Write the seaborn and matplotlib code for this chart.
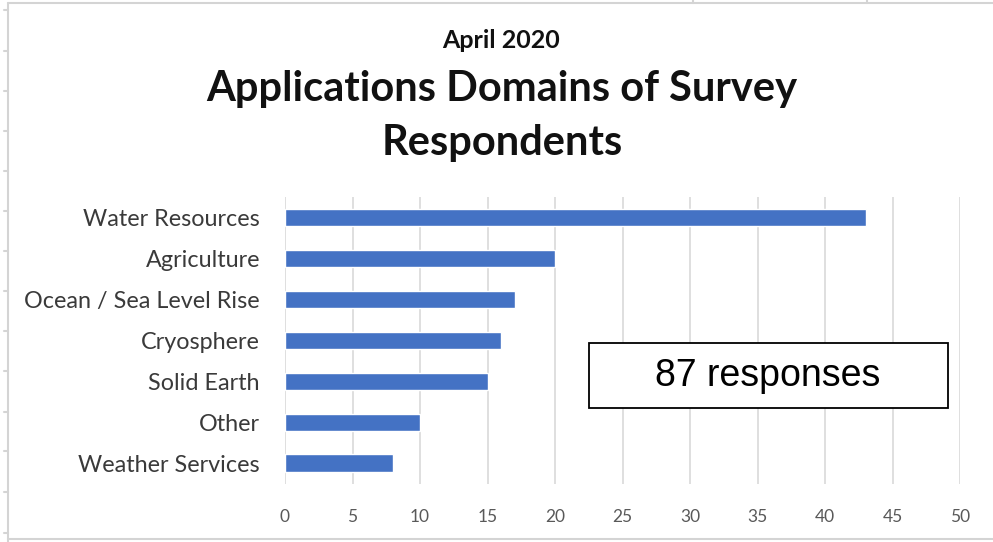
import matplotlib
matplotlib.use("Agg")
import matplotlib.pyplot as plt
import seaborn as sns
import pandas as pd
from matplotlib.lines import Line2D

# Survey data
domains = ["Water Resources", "Agriculture", "Ocean / Sea Level Rise", "Cryosphere",
           "Solid Earth", "Other", "Weather Services"]
counts = [43, 20, 17, 16, 15, 10, 8]
x_ticks = [0, 5, 10, 15, 20, 25, 30, 35, 40, 45, 50]
subtitle = "April 2020"
title = "Applications Domains of Survey\nRespondents"
note = "87 responses"

sns.set_theme(style="white")
plt.rcParams["font.family"] = ["Lato", "DejaVu Sans"]

df = pd.DataFrame({"domain": domains, "count": counts})

W, H = 993, 542
fig = plt.figure(figsize=(W / 100, H / 100), dpi=100)
ax = fig.add_axes([285 / W, 1 - 483.5 / H, (960 - 285) / W, (483.5 - 197) / H])

sns.barplot(data=df, x="count", y="domain", color="#4472C4", saturation=1,
            width=0.42, ax=ax, zorder=3)

ax.set_xlim(0, 50)
ax.set_xticks(x_ticks)
ax.set_xticklabels([str(t) for t in x_ticks], fontsize=12.5, color="#595959")
ax.tick_params(axis="x", length=0, pad=18)
ax.tick_params(axis="y", length=0, pad=18, labelsize=16.8, labelcolor="#3A3A3A")
ax.set_xlabel("")
ax.set_ylabel("")
ax.xaxis.grid(True, color="#D9D9D9", linewidth=1.2, zorder=0)
ax.yaxis.grid(False)
for s in ax.spines.values():
    s.set_visible(False)

# titles
fig.text(501 / W, 1 - 40 / H, subtitle, ha="center", va="center",
         fontsize=18, fontweight="bold", color="#111111")
fig.text(502 / W, 1 - 89 / H, title.split("\n")[0], ha="center", va="center",
         fontsize=30, fontweight="bold", color="#111111")
fig.text(502 / W, 1 - 143 / H, title.split("\n")[1], ha="center", va="center",
         fontsize=30, fontweight="bold", color="#111111")

# annotation box
box = plt.Rectangle((589 / W, 1 - 408 / H), (948 - 589) / W, (408 - 343) / H,
                    transform=fig.transFigure, fc="white", ec="black", lw=1.3, zorder=4)
fig.patches.append(box)
fig.text(768 / W, 1 - 376 / H, note, ha="center", va="center", zorder=5,
         fontsize=27, color="black", family=["Liberation Sans", "DejaVu Sans"])

# surrounding sheet frame
frame_kw = dict(transform=fig.transFigure, color="#D4D4D4", lw=1.5)
fig.lines.append(Line2D([8 / W, 8 / W], [0, 1 - 3 / H], **frame_kw))
fig.lines.append(Line2D([8 / W, 1], [1 - 3 / H, 1 - 3 / H], **frame_kw))
fig.lines.append(Line2D([8 / W, 1], [1 - 539 / H, 1 - 539 / H], **frame_kw))
for yy in [10, 51, 91, 131, 171, 211, 251, 291, 331, 371, 412, 451, 492, 533]:
    fig.lines.append(Line2D([4 / W, 8 / W], [1 - yy / H, 1 - yy / H], **frame_kw))
for xx in [693, 867]:
    fig.lines.append(Line2D([xx / W, xx / W], [1 - 3 / H, 1], **frame_kw))

fig.savefig("out.png", dpi=100)
